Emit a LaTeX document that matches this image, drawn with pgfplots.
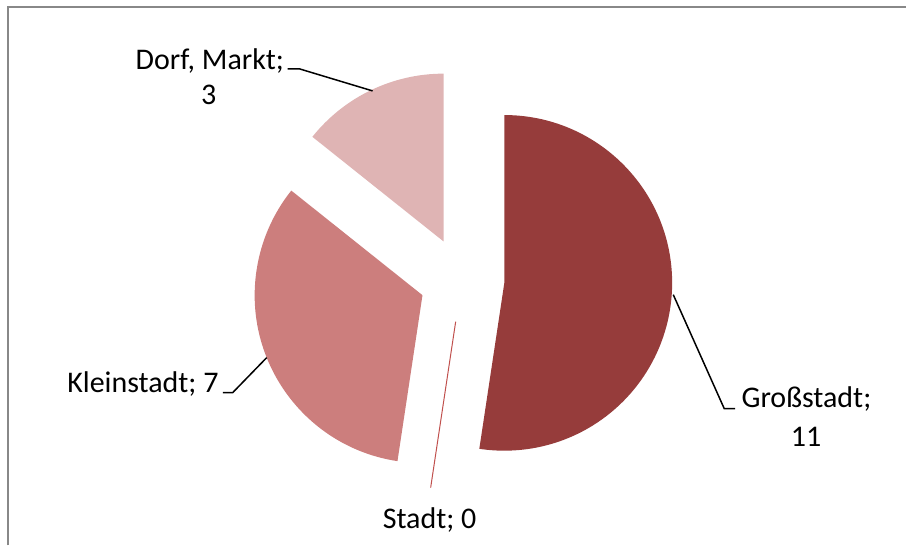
\documentclass[border=0pt]{standalone}
\usepackage{pgfplots}
\pgfplotsset{compat=1.18}
\usepackage{pgfplotstable}
\usepackage{fontspec}
\setmainfont{Carlito}
\definecolor{cGross}{HTML}{963C3B}
\definecolor{cStadt}{HTML}{C0504D}
\definecolor{cKlein}{HTML}{CC7E7D}
\definecolor{cDorf}{HTML}{DFB4B4}
\definecolor{cBorder}{HTML}{888888}

\pgfplotstableread[col sep=semicolon]{
label;value
Großstadt;11
Stadt;0
Kleinstadt;7
Dorf, Markt;3
}\piedata

% geometry in pixel units of the reference (1px = 0.5pt)
\def\cx{462.5}\def\cy{280}
\def\rad{84pt}\def\expl{21.25pt}

\newcommand\pieslice[3]{%
  \pgfmathsetmacro\pgfsS{90-#1}%
  \pgfmathsetmacro\pgfsE{90-#2}%
  \pgfmathsetmacro\pgfsM{90-(#1+#2)/2}%
  \edef\tmp{\noexpand\fill[#3] (axis cs:\cx,\cy) ++(\pgfsM:\expl) -- ++(\pgfsS:\rad) arc[start angle=\pgfsS, end angle=\pgfsE, radius=\rad] -- cycle;}%
  \tmp}
\newcommand\pieline[2]{%
  \pgfmathsetmacro\pgfsS{90-#1}%
  \edef\tmp{\noexpand\draw[#2, line width=0.5pt] (axis cs:\cx,\cy) ++(\pgfsS:\expl) -- ++(\pgfsS:\rad);}%
  \tmp}

\begin{document}
\begin{tikzpicture}
\pgfplotstablegetelem{0}{value}\of\piedata \let\vA\pgfplotsretval
\pgfplotstablegetelem{1}{value}\of\piedata \let\vB\pgfplotsretval
\pgfplotstablegetelem{2}{value}\of\piedata \let\vC\pgfplotsretval
\pgfplotstablegetelem{3}{value}\of\piedata \let\vD\pgfplotsretval
\pgfmathsetmacro\total{\vA+\vB+\vC+\vD}
\pgfmathsetmacro\tA{0}
\pgfmathsetmacro\tB{\tA+360*\vA/\total}
\pgfmathsetmacro\tC{\tB+360*\vB/\total}
\pgfmathsetmacro\tD{\tC+360*\vC/\total}
\pgfmathsetmacro\tE{\tD+360*\vD/\total}
\begin{axis}[hide axis, scale only axis, width=453.5pt, height=273pt,
  xmin=0, xmax=907, ymin=0, ymax=546, y dir=reverse, clip=false]
\addplot[draw=none] coordinates {(0,0) (907,546)};
\path (axis cs:0,0) rectangle (axis cs:907,546);
\draw[cBorder, line width=1pt] (axis cs:8.5,546) -- (axis cs:8.5,7.5) -- (axis cs:907,7.5);
\pieslice{\tA}{\tB}{cGross}
\pieslice{\tC}{\tD}{cKlein}
\pieslice{\tD}{\tE}{cDorf}
\pieline{\tB}{cStadt}
% leader lines
\draw[black, line width=0.75pt] (axis cs:288,69) -- (axis cs:300,69) -- (axis cs:373,91);
\draw[black, line width=0.75pt] (axis cs:223,393) -- (axis cs:233,393) -- (axis cs:267,358);
\draw[black, line width=0.75pt] (axis cs:674,295) -- (axis cs:725,409) -- (axis cs:736,409);
% labels
\begingroup
\fontsize{15}{18}\selectfont
\node[anchor=base, inner sep=0pt, font=\fontsize{15}{18}\selectfont] at (axis cs:210,70) {Dorf, Markt;};
\node[anchor=base, inner sep=0pt, font=\fontsize{15}{18}\selectfont] at (axis cs:209,105) {\vD};
\node[anchor=base west, inner sep=0pt, font=\fontsize{15}{18}\selectfont] at (axis cs:67,393) {Kleinstadt; \vC};
\node[anchor=base west, inner sep=0pt, font=\fontsize{15}{18}\selectfont] at (axis cs:742,408) {Großstadt;};
\node[anchor=base, inner sep=0pt, font=\fontsize{15}{18}\selectfont] at (axis cs:807,447) {\vA};
\node[anchor=base, inner sep=0pt, font=\fontsize{15}{18}\selectfont] at (axis cs:430,529) {Stadt; \vB};
\endgroup
\end{axis}
\end{tikzpicture}
\end{document}
